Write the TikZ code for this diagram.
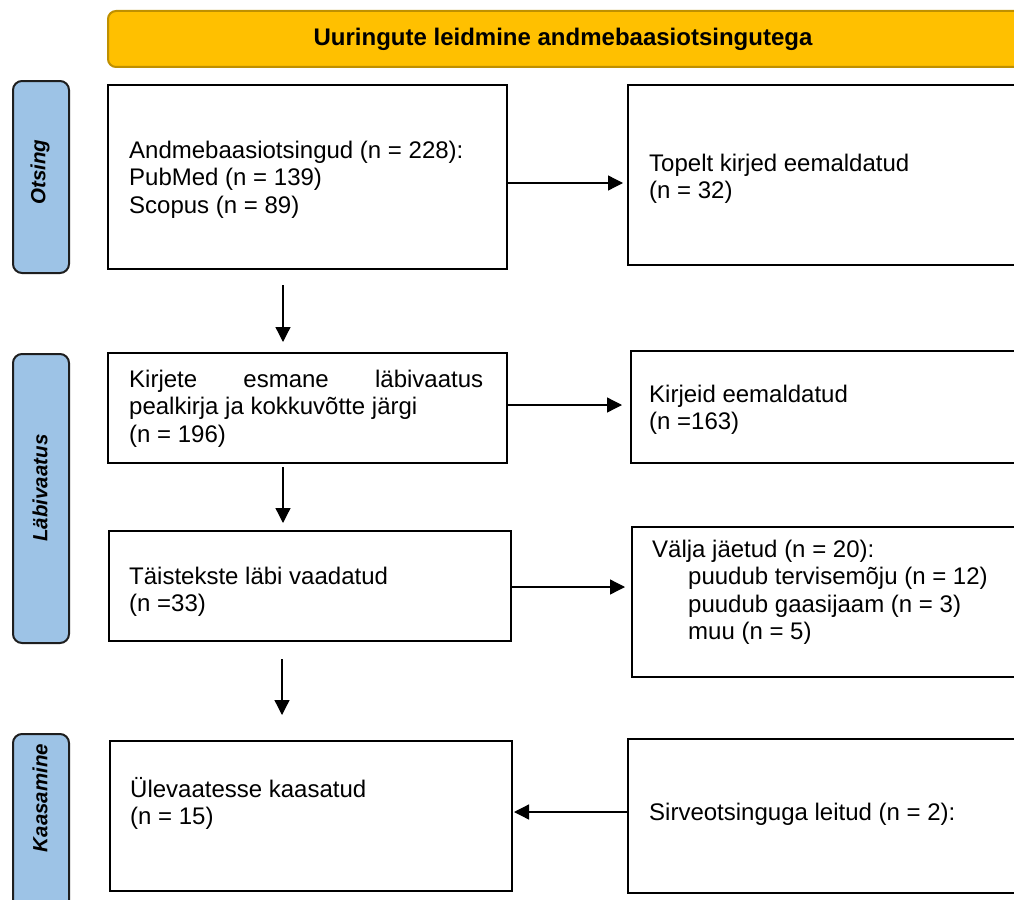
\documentclass[tikz,border=0pt]{standalone}
\usepackage{fontspec}
\setmainfont{Liberation Sans}
\usetikzlibrary{arrows.meta}
\definecolor{bannerfill}{HTML}{FFC000}
\definecolor{bannerdraw}{HTML}{BF9000}
\definecolor{sidefill}{HTML}{9DC3E6}
\definecolor{sidedraw}{HTML}{1E1E1E}
\tikzset{
  banner/.style={draw=bannerdraw, fill=bannerfill, line width=2pt, rounded corners=8pt, anchor=north west, inner sep=0},
  side/.style={draw=sidedraw, fill=sidefill, line width=2pt, rounded corners=9pt, anchor=north west, inner sep=0, minimum width=56pt},
  sidetext/.style={rotate=90, font=\fontsize{20.5}{24}\selectfont\bfseries\itshape, inner sep=0},
  box/.style={draw=black, line width=2pt, anchor=north west, inner sep=0},
  txt/.style={anchor=base west, inner sep=0, font=\fontsize{24}{27.5}\selectfont},
  arr/.style={line width=1.3pt, -{Triangle[length=15pt,width=15pt]}},
}
\begin{document}
\begin{tikzpicture}[x=1pt,y=-1pt]
\useasboundingbox (0,0) rectangle (1014,899);
\fill[white] (0,0) rectangle (1014,899);
\clip (0,0) rectangle (1014,899);
% banner
\node[banner, minimum width=920pt, minimum height=56pt] (ban) at (107,10) {};
\node[inner sep=0, font=\fontsize{24}{27.5}\selectfont\bfseries] (bant) at (563,39) {Uuringute leidmine andmebaasiotsingutega};
% side labels
\node[side, minimum height=192pt] (s1) at (12,80) {};
\node[sidetext] (s1t) at (40,172) {Otsing};
\node[side, minimum height=289pt] (s2) at (12,353) {};
\node[sidetext] (s2t) at (40,488) {Läbivaatus};
\node[side, minimum height=190pt] (s3) at (12,733) {};
\node[sidetext] (s3t) at (40,798) {Kaasamine};
% left boxes
\node[box, minimum width=399pt, minimum height=184pt] (b1) at (107,84) {};
\node[box, minimum width=399pt, minimum height=110pt] (b2) at (107,352) {};
\node[box, minimum width=402pt, minimum height=110pt] (b3) at (108,530) {};
\node[box, minimum width=402pt, minimum height=150pt] (b4) at (109,740) {};
% right boxes
\node[box, minimum width=400pt, minimum height=180pt] (r1) at (627,84) {};
\node[box, minimum width=400pt, minimum height=112pt] (r2) at (630,350) {};
\node[box, minimum width=400pt, minimum height=150pt] (r3) at (631,526) {};
\node[box, minimum width=400pt, minimum height=154pt] (r4) at (627,738) {};
% texts
\node[txt] (b1t) at (129,158) {\begin{tabular}[t]{@{}l@{}}Andmebaasiotsingud (n = 228):\\PubMed (n = 139)\\Scopus (n = 89)\end{tabular}};
\node[txt] (b2t) at (129,387) {\begin{tabular}[t]{@{}l@{}}\makebox[354pt][s]{Kirjete\hfill esmane\hfill läbivaatus}\\pealkirja ja kokkuvõtte järgi\\(n = 196)\end{tabular}};
\node[txt] (b3t) at (129,584) {\begin{tabular}[t]{@{}l@{}}Täistekste läbi vaadatud\\(n =33)\end{tabular}};
\node[txt] (b4t) at (130,797) {\begin{tabular}[t]{@{}l@{}}Ülevaatesse kaasatud\\(n = 15)\end{tabular}};
\node[txt] (r1t) at (649,171) {\begin{tabular}[t]{@{}l@{}}Topelt kirjed eemaldatud\\(n = 32)\end{tabular}};
\node[txt] (r2t) at (649,402) {\begin{tabular}[t]{@{}l@{}}Kirjeid eemaldatud\\(n =163)\end{tabular}};
\node[txt] (r3t) at (652,557) {\begin{tabular}[t]{@{}l@{}}Välja jäetud (n = 20):\\\hspace*{36pt}puudub tervisemõju (n = 12)\\\hspace*{36pt}puudub gaasijaam (n = 3)\\\hspace*{36pt}muu (n = 5)\end{tabular}};
\node[txt] (r4t) at (649,820) {Sirveotsinguga leitud (n = 2):};
% arrow reference coordinates
\coordinate (h1) at (0,183);
\coordinate (h2) at (0,405);
\coordinate (h3) at (0,587);
\coordinate (h4) at (0,812);
\coordinate (v1) at (283,0);
\coordinate (v2) at (283,0);
\coordinate (v3) at (282,0);
% horizontal arrows
\draw[arr, shorten >=4pt] (b1.east |- h1) -- (r1.west |- h1);
\draw[arr, shorten >=8pt] (b2.east |- h2) -- (r2.west |- h2);
\draw[arr, shorten >=6pt] (b3.east |- h3) -- (r3.west |- h3);
\draw[arr, shorten >=1pt] (r4.west |- h4) -- (b4.east |- h4);
% vertical arrows
\draw[arr, shorten <=15pt, shorten >=10pt] (b1.south -| v1) -- (b2.north -| v1);
\draw[arr, shorten <=3pt, shorten >=7pt] (b2.south -| v2) -- (b3.north -| v2);
\draw[arr, shorten <=17pt, shorten >=25pt] (b3.south -| v3) -- (b4.north -| v3);
\end{tikzpicture}
\end{document}
